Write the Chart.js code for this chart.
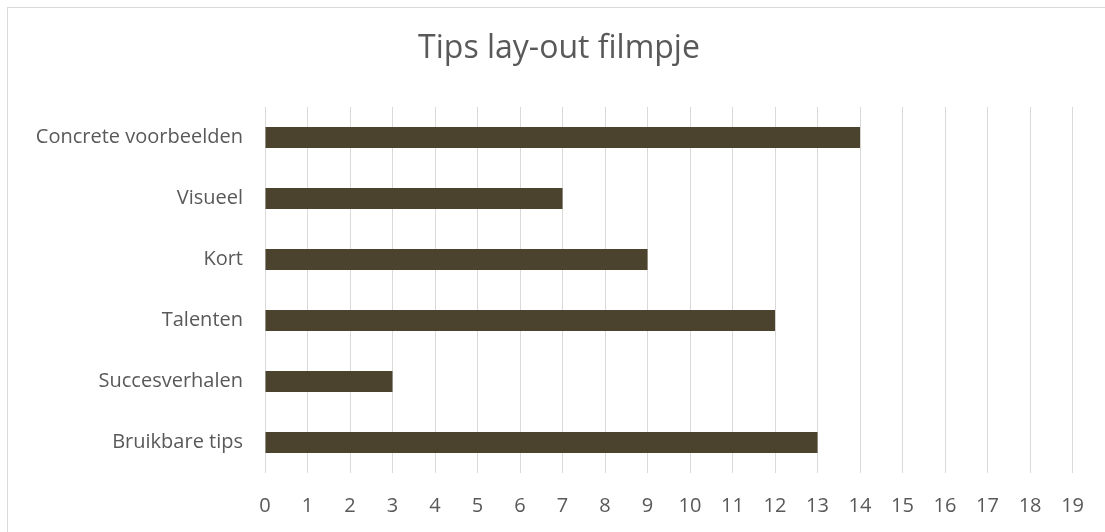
<!DOCTYPE html>
<html>
<head>
<meta charset="utf-8">
<script src="https://cdn.jsdelivr.net/npm/chart.js@4"></script>
<style>
  html, body { margin: 0; padding: 0; background: #fff; }
  #wrap { position: relative; width: 1105px; height: 532px; overflow: hidden; }
  #frame { position: absolute; left: 7px; top: 7px; width: 1110px; height: 540px;
           border-left: 1px solid #d9d9d9; border-top: 1px solid #d9d9d9; }
  canvas { position: absolute; left: 0; top: 0; }
</style>
</head>
<body>
<div id="wrap">
  <div id="frame"></div>
  <canvas id="chart" width="1105" height="532"></canvas>
</div>
<script>
// Tips lay-out filmpje - horizontale staafgrafiek

const categories = ['Concrete voorbeelden', 'Visueel', 'Kort', 'Talenten', 'Succesverhalen', 'Bruikbare tips'];
const counts = [14, 7, 9, 12, 3, 13];
const xMin = 0;
const xMax = 19;

const fontFamily = "'Open Sans', 'Liberation Sans', sans-serif";
const textColor = '#595959';

// titel centreren over het kader (dat rechts buiten beeld doorloopt)
const shiftTitle = {
    id: 'shiftTitle',
    afterLayout(chart) {
        const t = chart.titleBlock;
        if (!t) return;
        t.left = 45;
        t.right = 1073;
        t.width = t.right - t.left;
    }
};

new Chart(document.getElementById('chart').getContext('2d'), {
    type: 'bar',
    data: {
        labels: categories,
        datasets: [{
            label: 'Tips',
            data: counts,
            backgroundColor: '#4b432e',
            borderWidth: 0,
            categoryPercentage: 1,
            barPercentage: 0.345
        }]
    },
    options: {
        indexAxis: 'y',
        responsive: false,
        animation: false,
        layout: { padding: { left: 0, right: 32, top: 0, bottom: 0 } },
        plugins: {
            legend: { display: false },
            tooltip: { enabled: false },
            title: {
                display: true,
                text: 'Tips lay-out filmpje',
                color: textColor,
                font: { family: fontFamily, size: 32, weight: 'normal' },
                padding: { top: 30, bottom: 38.6 }
            }
        },
        scales: {
            x: {
                min: xMin,
                max: xMax,
                ticks: {
                    stepSize: 1,
                    color: textColor,
                    padding: 21,
                    font: { family: fontFamily, size: 20 }
                },
                grid: { color: '#d9d9d9', lineWidth: 1, drawTicks: false },
                border: { display: false },
                afterFit: (scale) => { scale.height = 59; }
            },
            y: {
                ticks: {
                    color: textColor,
                    padding: 22,
                    font: { family: fontFamily, size: 20 }
                },
                grid: { display: false, drawTicks: false },
                border: { display: false },
                afterFit: (scale) => { scale.width = 265; }
            }
        }
    },
    plugins: [shiftTitle]
});
</script>
</body>
</html>
